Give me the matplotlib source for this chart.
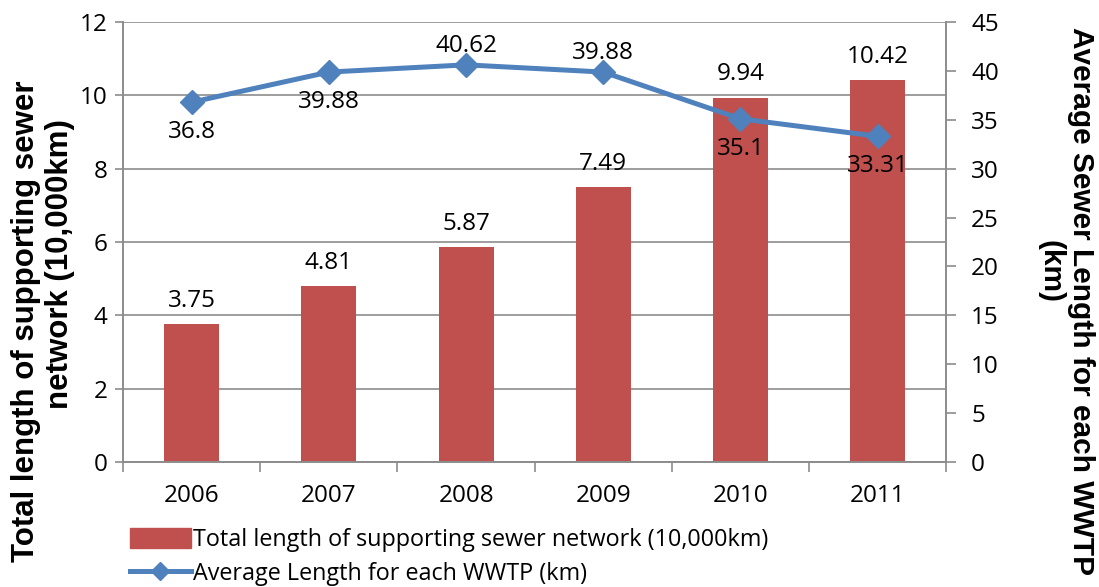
import numpy as np
import matplotlib.pyplot as plt
from matplotlib.lines import Line2D
from matplotlib.patches import Patch

years = ['2006', '2007', '2008', '2009', '2010', '2011']
total_length = [3.75, 4.81, 5.87, 7.49, 9.94, 10.42]
avg_length = [36.8, 39.88, 40.62, 39.88, 35.1, 33.31]
# where each line label sits relative to its point
avg_label_pos = ['below', 'below', 'above', 'above', 'below', 'below']

bar_color = '#C0504D'
line_color = '#4F81BD'
grid_color = '#8C8C8C'
num_font = 'Open Sans'
title_font = 'Liberation Sans'

fig = plt.figure(figsize=(10.99, 5.87), dpi=100)
ax = fig.add_axes([0.112, 0.213, 0.749, 0.7495])
ax2 = ax.twinx()

x = np.arange(len(years))
ax.bar(x, total_length, width=0.4, color=bar_color, zorder=2)
for xi, v in zip(x, total_length):
    ax.annotate(f'{v:g}', (xi, v), xytext=(0, 8), textcoords='offset points',
                ha='center', va='bottom', fontsize=17.5, family=num_font)

ax2.plot(x, avg_length, color=line_color, lw=3.6, marker='D', markersize=12,
         zorder=3)
for xi, v, pos in zip(x, avg_length, avg_label_pos):
    dy = -13 if pos == 'below' else 5
    va = 'top' if pos == 'below' else 'bottom'
    ax2.annotate(f'{v:g}', (xi, v), xytext=(0, dy), textcoords='offset points',
                 ha='center', va=va, fontsize=17.5, family=num_font)

ax.set_xlim(-0.5, 5.5)
ax.set_ylim(0, 12)
ax2.set_ylim(0, 45)
ax.set_yticks(np.arange(0, 13, 2))
ax2.set_yticks(np.arange(0, 46, 5))

ax.set_xticks(x)
ax.set_xticklabels(years)
ax.set_xticks(np.arange(-0.5, 6, 1), minor=True)
ax.tick_params(axis='x', which='major', length=0, pad=16)
ax.tick_params(axis='x', which='minor', length=7, color=grid_color, width=1.2)
ax.tick_params(axis='y', length=6, color=grid_color, width=1.2, pad=5)
ax2.tick_params(axis='y', length=7, color=grid_color, width=1.2, pad=11)
for a in (ax, ax2):
    for lab in a.get_xticklabels() + a.get_yticklabels():
        lab.set_family(num_font)
        lab.set_fontsize(17.5)

ax.yaxis.grid(True, color=grid_color, lw=1.2, zorder=0)
ax.set_axisbelow(True)
for a in (ax, ax2):
    a.spines['top'].set_visible(False)
    for s in ('left', 'right', 'bottom'):
        a.spines[s].set_color(grid_color)
        a.spines[s].set_linewidth(1.2)

# axis titles, one text per line
fig.text(26 / 1099, 1 - 321 / 587, 'Total length of supporting sewer',
         rotation=90, ha='center', va='center', fontsize=22.5,
         fontweight='bold', family=title_font)
fig.text(60 / 1099, 1 - 264 / 587, 'network (10,000km)',
         rotation=90, ha='center', va='center', fontsize=22.5,
         fontweight='bold', family=title_font)
fig.text(1081 / 1099, 1 - 301 / 587, 'Average Sewer Length for each WWTP',
         rotation=-90, ha='center', va='center', fontsize=21.5,
         fontweight='bold', family=title_font)
fig.text(1050 / 1099, 1 - 272 / 587, '(km)',
         rotation=-90, ha='center', va='center', fontsize=21.5,
         fontweight='bold', family=title_font)

handles = [Patch(color=bar_color),
           Line2D([], [], color=line_color, lw=3.6, marker='D', markersize=9)]
labels = ['Total length of supporting sewer network (10,000km)',
          'Average Length for each WWTP (km)']
fig.legend(handles, labels, loc='upper left',
           bbox_to_anchor=(130 / 1099, 1 - 528 / 587),
           frameon=False, prop={'family': num_font, 'size': 16.8},
           handlelength=2.6, handleheight=0.9, handletextpad=0.1,
           labelspacing=0.42, borderaxespad=0, borderpad=0)

fig.savefig('out.png', dpi=100)
